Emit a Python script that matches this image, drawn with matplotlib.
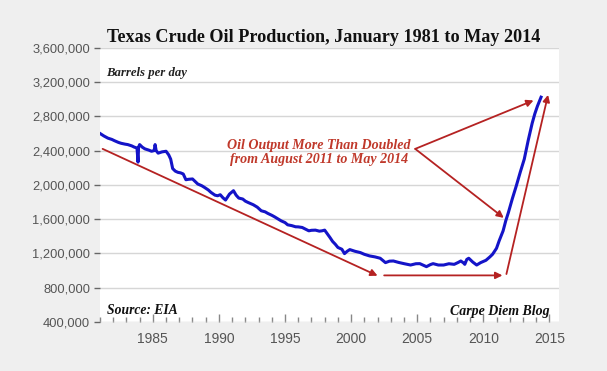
import matplotlib
matplotlib.use("Agg")
import matplotlib.pyplot as plt
from matplotlib.ticker import FuncFormatter, MultipleLocator
import numpy as np

# Texas crude oil production, thousand barrels per day
years = [1981.0, 1981.3, 1981.6, 1981.9, 1982.1, 1982.4, 1982.6, 1982.9, 1983.1, 1983.4,
         1983.6, 1983.8, 1983.88, 1983.92, 1984.0, 1984.2, 1984.4, 1984.7, 1984.9, 1985.1,
         1985.17, 1985.25, 1985.4, 1985.7, 1986.0, 1986.2, 1986.35, 1986.5, 1986.7, 1986.9,
         1987.1, 1987.3, 1987.5, 1987.7, 1988.0, 1988.2, 1988.4, 1988.7, 1988.9, 1989.2,
         1989.4, 1989.7, 1989.9, 1990.1, 1990.3, 1990.5, 1990.8, 1991.1, 1991.3, 1991.5,
         1991.8, 1992.0, 1992.2, 1992.6, 1992.9, 1993.2, 1993.5, 1993.7, 1994.0, 1994.2,
         1994.5, 1994.7, 1995.0, 1995.2, 1995.5, 1995.8, 1996.0, 1996.3, 1996.6, 1996.8,
         1997.0, 1997.3, 1997.6, 1997.8, 1998.0, 1998.2, 1998.4, 1998.6, 1998.8, 1999.0,
         1999.3, 1999.5, 1999.7, 1999.9, 2000.3, 2000.7, 2001.0, 2001.4, 2001.8, 2002.2,
         2002.6, 2002.9, 2003.2, 2003.6, 2004.0, 2004.5, 2004.9, 2005.2, 2005.5, 2005.7,
         2006.0, 2006.2, 2006.6, 2007.0, 2007.4, 2007.8, 2008.1, 2008.3, 2008.5, 2008.6,
         2008.75, 2008.9, 2009.2, 2009.5, 2009.8, 2010.2, 2010.5, 2010.7, 2011.0, 2011.2,
         2011.5, 2011.7, 2011.9, 2012.2, 2012.5, 2012.8, 2013.1, 2013.4, 2013.7, 2013.9,
         2014.1, 2014.37]
output = [2600, 2570, 2545, 2530, 2515, 2495, 2485, 2475, 2470, 2455,
          2440, 2430, 2265, 2440, 2470, 2440, 2420, 2405, 2392, 2400,
          2470, 2400, 2370, 2385, 2392, 2350, 2300, 2190, 2160, 2146,
          2140, 2127, 2060, 2065, 2069, 2040, 2010, 1990, 1971, 1940,
          1912, 1880, 1873, 1885, 1850, 1823, 1893, 1932, 1880, 1846,
          1835, 1810, 1795, 1768, 1740, 1698, 1685, 1667, 1645, 1628,
          1600, 1581, 1560, 1534, 1525, 1511, 1510, 1503, 1480, 1464,
          1470, 1472, 1460, 1464, 1472, 1430, 1386, 1340, 1308, 1270,
          1249, 1198, 1225, 1245, 1225, 1210, 1190, 1171, 1160, 1144,
          1093, 1110, 1112, 1095, 1081, 1065, 1080, 1081, 1060, 1046,
          1070, 1081, 1065, 1065, 1080, 1073, 1095, 1112, 1090, 1073,
          1130, 1144, 1100, 1065, 1093, 1120, 1160, 1190, 1260, 1347,
          1464, 1581, 1678, 1840, 1990, 2150, 2300, 2520, 2720, 2830,
          2920, 3023]

y_ticks = [400000, 800000, 1200000, 1600000, 2000000, 2400000, 2800000, 3200000, 3600000]
x_ticks = [1985, 1990, 1995, 2000, 2005, 2010, 2015]

red = "#c0392b"
arrow_red = "#b52222"
serif = ["Liberation Serif", "DejaVu Serif"]

fig = plt.figure(figsize=(6.07, 3.71), dpi=100, facecolor="#efefef")
ax = fig.add_axes([0.1647, 0.132, 0.7567, 0.7394])
ax.set_facecolor("white")

ax.plot(years, np.array(output) * 1000, color="#1414c8", lw=2.2, zorder=3)

ax.set_xlim(1981, 2015.75)
ax.set_ylim(400000, 3600000)
ax.set_yticks(y_ticks)
ax.set_xticks(x_ticks)
ax.xaxis.set_minor_locator(MultipleLocator(1))
ax.yaxis.set_major_formatter(FuncFormatter(lambda v, p: f"{int(v):,}"))
ax.grid(axis="y", color="#d6d6d6", lw=1)
ax.set_axisbelow(True)
for s in ax.spines.values():
    s.set_visible(False)

ax.tick_params(axis="y", direction="out", length=4, width=1, color="#666666",
               labelcolor="#555555", labelsize=9.3, pad=3)
ax.tick_params(axis="x", which="major", direction="in", length=6, width=1,
               color="#888888", labelcolor="#555555", labelsize=10, pad=7)
ax.tick_params(axis="x", which="minor", direction="in", length=3.5, width=1, color="#888888")
for lbl in ax.get_xticklabels() + ax.get_yticklabels():
    lbl.set_family(["Liberation Sans", "DejaVu Sans"])

arrow = dict(arrowstyle="-|>", color=arrow_red, lw=1.3, mutation_scale=10,
             shrinkA=0, shrinkB=0)
# trend arrows
ax.annotate("", xy=(2002.0, 940000), xytext=(1981.2, 2420000), arrowprops=arrow)
ax.annotate("", xy=(2011.45, 944000), xytext=(2002.5, 944000), arrowprops=arrow)
ax.annotate("", xy=(2014.9, 3050000), xytext=(2011.75, 960000), arrowprops=arrow)
# callout arrows
ax.annotate("", xy=(2013.8, 2985000), xytext=(2004.85, 2420000), arrowprops=arrow)
ax.annotate("", xy=(2011.55, 1615000), xytext=(2004.85, 2420000), arrowprops=arrow)

ax.text(1997.55, 2380000, "Oil Output More Than Doubled\nfrom August 2011 to May 2014",
        color=red, family=serif, style="italic", weight="bold", fontsize=10.1,
        ha="center", va="center", linespacing=1.15)

fig.text(324 / 607, 1 - 37 / 371, "Texas Crude Oil Production, January 1981 to May 2014",
         family=serif, weight="bold", fontsize=13.1, ha="center", va="center", color="#111111")
fig.text(106 / 607, 1 - 73 / 371, "Barrels per day", family=serif, style="italic",
         weight="bold", fontsize=9.2, ha="left", va="center", color="#222222")
fig.text(107 / 607, 1 - 311 / 371, "Source: EIA", family=serif, style="italic",
         weight="bold", fontsize=9.8, ha="left", va="center", color="#111111")
fig.text(550 / 607, 1 - 311 / 371, "Carpe Diem Blog", family=serif, style="italic",
         weight="bold", fontsize=10, ha="right", va="center", color="#111111")

fig.savefig("out.png", dpi=100, facecolor=fig.get_facecolor())
